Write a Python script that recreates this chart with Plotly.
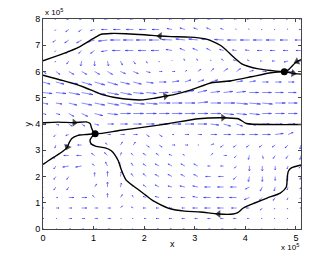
import plotly.graph_objects as go

# ---------------- data (x, y in units of 1e5) ----------------
X_GRID = [0.0, 0.255, 0.51, 0.765, 1.02, 1.275, 1.53, 1.785, 2.04, 2.295, 2.55,
          2.805, 3.06, 3.315, 3.57, 3.825, 4.08, 4.335, 4.59, 4.845, 5.1]
Y_GRID_TOP_DOWN = [8.0, 7.6, 7.2, 6.8, 6.4, 6.0, 5.6, 5.2, 4.8, 4.4, 4.0,
                   3.6, 3.2, 2.8, 2.4, 2.0, 1.6, 1.2, 0.8, 0.4, 0.0]

# velocity components (cm/s), rows from top (y=8) to bottom (y=0)
U_ROWS = [
    [-2,-2,-4,-4,-6,-6,-6,-6,-6,-6,-6,-6,-6,-6,-6,-5,-5,-4,-4,-4,-4],
    [-2,-2,-6,-6,-8,-12,-14,-14,-14,-14,-10,-10,-8,-8,-6,-2,-2,-2,-2,-2,-4],
    [-4,-6,-8,-10,-14,-18,-20,-20,-20,-20,-20,-18,-18,-18,-18,-18,-18,-18,-18,-16,-12],
    [-2,-2,-6,-6,-8,-12,-16,-16,-16,-16,-12,-10,-10,-8,-8,-8,-8,-10,-10,-10,-10],
    [-2,-2,-4,-2,0,2,4,4,2,0,0,-2,-2,0,-4,-6,-4,-4,-6,-8,-8],
    [6,8,10,10,10,10,10,10,8,6,6,4,6,6,8,8,8,8,10,10,10],
    [14,16,18,20,20,20,18,16,14,14,14,12,12,14,14,12,12,12,12,12,10],
    [18,20,22,22,22,22,22,20,20,18,18,18,18,18,18,18,18,18,16,16,16],
    [10,12,16,20,20,22,22,22,22,22,20,20,20,20,22,22,22,20,20,18,16],
    [6,8,10,12,16,20,20,20,20,20,20,20,20,20,20,20,20,18,18,18,16],
    [6,6,6,6,8,12,14,16,16,16,18,18,18,16,14,12,12,14,14,14,14],
    [-2,-4,-6,-6,-2,6,8,8,6,6,4,8,8,12,14,16,16,16,16,10,6],
    [-2,-2,-6,-8,-8,-4,4,4,6,6,6,6,2,6,-6,-6,-6,-6,-6,-6,-2],
    [-2,-4,-10,-10,-6,-6,2,-4,-6,-6,-6,-4,0,4,6,-4,-2,2,-4,-4,-2],
    [-2,-4,-12,-12,-4,-4,-2,-4,-6,-8,-8,-8,-8,-6,-6,-4,0,0,0,-2,-4],
    [-2,-4,-4,0,0,0,2,-4,-6,-8,-8,-8,-8,-10,-10,-6,-2,0,0,-2,-2],
    [-2,-4,-4,0,4,0,2,-4,-6,-8,-8,-10,-10,-12,-12,-12,-8,-4,-2,-2,-2],
    [2,4,10,10,-4,0,4,-2,-6,-8,-8,-8,-10,-14,-14,-14,-10,-6,-4,-2,-2],
    [2,6,6,10,6,6,4,-4,-6,-6,-6,-6,-10,-12,-12,-10,-6,-4,-2,-2,-2],
    [2,2,6,6,6,6,2,-2,-4,-6,-6,-6,-6,-6,-6,-6,-4,-2,-2,-2,0],
    [2,2,4,4,4,4,2,-2,-2,-4,-4,-4,-4,-4,-4,-4,-2,-2,-2,-2,0],
]
V_ROWS = [
    [-2,-2,-2,-2,0,0,0,0,0,0,0,0,0,0,0,0,0,0,0,0,0],
    [-4,-4,-8,-8,-4,0,0,0,0,0,4,6,6,6,4,2,2,0,0,2,0],
    [-8,-8,-11,-11,-8,-4,0,0,0,0,2,4,4,4,2,0,0,0,0,0,0],
    [-4,-4,-11,-11,-11,-4,0,0,0,0,4,8,8,8,4,2,2,0,0,0,0],
    [-4,-4,-11,-19,-19,-19,-15,-11,-8,-4,2,8,8,4,8,4,4,0,0,-4,-4],
    [-8,-11,-11,-11,-11,-11,-8,-8,-4,0,0,4,8,11,11,11,4,0,0,0,0],
    [-8,-8,-8,-11,-11,-11,-8,-8,-4,0,4,8,8,8,4,4,4,0,0,0,0],
    [-4,-4,-8,-8,-8,-8,-8,-4,-4,0,4,8,8,4,4,4,0,0,0,0,0],
    [-4,-4,-8,-8,-8,-8,-8,-4,-4,0,0,0,4,0,0,-4,-4,-4,0,0,0],
    [-4,-4,-11,-11,-8,-4,0,0,0,0,0,0,0,0,-4,-4,-4,0,0,0,0],
    [0,-4,-8,-8,-4,0,0,0,0,0,0,0,0,-4,-8,-8,-4,0,0,0,0],
    [-4,-8,-4,0,4,0,0,0,-8,-8,0,0,0,0,0,0,0,0,4,8,0],
    [-8,-11,0,0,4,8,11,11,-8,-8,0,0,0,4,-8,-8,-8,-8,-8,-11,-15],
    [-11,-11,0,0,8,11,11,8,8,8,4,4,0,8,0,-8,-15,-11,-11,-11,-15],
    [-11,-11,-4,-4,8,15,15,11,8,8,8,8,8,0,0,-8,-19,-19,-15,-11,-8],
    [-8,-11,-11,0,15,19,19,11,11,8,8,8,8,0,0,-11,-19,-19,-15,-15,-11],
    [-8,-11,-11,0,11,19,15,11,8,8,4,4,4,0,0,0,-8,-15,-15,-11,-8],
    [0,0,0,0,8,15,11,8,4,4,0,0,4,0,0,0,-8,-11,-11,-8,-4],
    [0,0,0,0,0,0,8,4,0,0,0,0,0,0,0,0,0,-8,-4,-4,0],
    [0,0,0,0,0,0,0,0,0,0,0,0,0,0,0,0,0,0,0,0,0],
    [0,0,0,0,0,0,0,0,0,0,0,0,0,0,0,0,0,0,0,0,0],
]

# streamlines (x, y in 1e5), listed in flow direction
STREAM_TOP_X = [5.1, 5.02, 4.93, 4.85, 4.77, 4.5, 4.26, 4.05, 3.92, 3.76, 3.62, 3.52, 3.35, 3.19,
                2.9, 2.53, 2.31, 2.0, 1.64, 1.35, 1.15, 0.99, 0.73, 0.4, 0.0]
STREAM_TOP_Y = [6.45, 6.38, 6.22, 6.06, 6.0, 6.04, 6.1, 6.2, 6.3, 6.56, 6.82, 6.98, 7.15, 7.25,
                7.31, 7.33, 7.35, 7.4, 7.44, 7.45, 7.42, 7.25, 6.95, 6.68, 6.41]
STREAM_MID_X = [0.0, 0.4, 0.79, 1.19, 1.58, 1.98, 2.2, 2.42, 2.57, 2.93, 3.33, 3.72, 4.12, 4.51,
                4.77, 4.95, 5.1]
STREAM_MID_Y = [5.86, 5.65, 5.42, 5.11, 4.96, 4.92, 4.98, 5.06, 5.11, 5.3, 5.57, 5.65, 5.8, 5.95,
                5.99, 5.93, 5.9]
STREAM_JET_X = [0.0, 0.3, 0.62, 0.85, 0.93, 0.96, 0.99, 1.03, 1.5, 2.0, 2.5, 3.07, 3.56, 3.86,
                4.02, 4.5, 5.1]
STREAM_JET_Y = [4.05, 4.07, 4.05, 4.08, 4.02, 3.85, 3.72, 3.63, 3.75, 3.88, 4.02, 4.2, 4.24, 4.2,
                4.02, 3.98, 3.98]
STREAM_WEST_X = [1.03, 0.85, 0.68, 0.57, 0.52, 0.48, 0.4, 0.26, 0.12, 0.0]
STREAM_WEST_Y = [3.63, 3.6, 3.56, 3.45, 3.3, 3.12, 2.97, 2.79, 2.62, 2.46]
STREAM_LOOP_X = [5.1, 4.91, 4.85, 4.83, 4.81, 4.69, 4.43, 4.2, 3.96, 3.85, 3.76, 3.47, 3.11, 2.8,
                 2.5, 2.3, 2.18, 2.02, 1.84, 1.64, 1.55, 1.48, 1.35, 1.23, 1.05, 0.95, 0.93,
                 0.97, 1.03]
STREAM_LOOP_Y = [2.44, 2.33, 2.2, 2.0, 1.6, 1.37, 1.18, 1.0, 0.8, 0.62, 0.57, 0.57, 0.65, 0.68,
                 0.78, 0.95, 1.07, 1.3, 1.56, 1.87, 2.25, 2.63, 2.98, 3.09, 3.15, 3.25, 3.38,
                 3.52, 3.63]
# arrowheads: index into the streamline where a head is drawn
ARROWS = [("top", 1), ("top", 16), ("mid", 7), ("mid", 15), ("jet", 2), ("jet", 12),
          ("west", 5), ("loop", 11)]
SEED_X = [4.77, 1.03]
SEED_Y = [5.99, 3.63]

# ---------------- figure ----------------
SCALE = 0.0100  # 1e5 m per (cm/s)
ALPHA, BETA = 0.33, 0.33

qx, qy = [], []
for r, yv in enumerate(Y_GRID_TOP_DOWN):
    for c, xv in enumerate(X_GRID):
        u = U_ROWS[r][c] * SCALE
        v = V_ROWS[r][c] * SCALE
        if u == 0 and v == 0:
            continue
        tx, ty = xv + u, yv + v
        qx += [xv, tx, None]
        qy += [yv, ty, None]
        qx += [tx - ALPHA * (u + BETA * v), tx, tx - ALPHA * (u - BETA * v), None]
        qy += [ty - ALPHA * (v - BETA * u), ty, ty - ALPHA * (v + BETA * u), None]

fig = go.Figure()
fig.add_trace(go.Scatter(x=qx, y=qy, mode="lines",
                         line=dict(color="rgb(40,40,255)", width=0.55),
                         hoverinfo="skip", showlegend=False))

streams = {
    "top": (STREAM_TOP_X, STREAM_TOP_Y),
    "mid": (STREAM_MID_X, STREAM_MID_Y),
    "jet": (STREAM_JET_X, STREAM_JET_Y),
    "west": (STREAM_WEST_X, STREAM_WEST_Y),
    "loop": (STREAM_LOOP_X, STREAM_LOOP_Y),
}
for name, (sx, sy) in streams.items():
    fig.add_trace(go.Scatter(x=sx, y=sy, mode="lines",
                             line=dict(color="black", width=1.4, shape="spline", smoothing=0.6),
                             hoverinfo="skip", showlegend=False))

for name, i in ARROWS:
    sx, sy = streams[name]
    fig.add_trace(go.Scatter(x=[sx[i - 1], sx[i]], y=[sy[i - 1], sy[i]], mode="markers",
                             marker=dict(symbol="triangle-up", size=[0, 7], color="black",
                                         angleref="previous", line=dict(width=0)),
                             hoverinfo="skip", showlegend=False))

fig.add_trace(go.Scatter(x=SEED_X, y=SEED_Y, mode="markers",
                         marker=dict(symbol="circle", size=7, color="black"),
                         hoverinfo="skip", showlegend=False))

axis_common = dict(showgrid=False, zeroline=False, showline=True, linecolor="#444",
                   linewidth=1, mirror="ticks", ticks="inside", ticklen=3,
                   tickcolor="#444", tickfont=dict(size=9, color="black"),
                   automargin=False)
fig.update_xaxes(range=[0, 5.1], tickvals=[0, 1, 2, 3, 4, 5], **axis_common)
fig.update_yaxes(range=[0, 8], tickvals=[0, 1, 2, 3, 4, 5, 6, 7, 8], **axis_common)

# the page adds an 8px body margin, so the figure is sized/offset to compensate
fig.update_layout(
    width=324, height=250,
    margin=dict(l=35, r=31, t=11, b=29, autoexpand=False),
    paper_bgcolor="white", plot_bgcolor="white",
    font=dict(family="Liberation Sans, Arial, sans-serif", size=9, color="black"),
    annotations=[
        dict(text="x", x=0.5, y=-0.072, xref="paper", yref="paper",
             showarrow=False, xanchor="center", yanchor="middle", font=dict(size=9)),
        dict(text="y", x=-0.06, y=0.5, xref="paper", yref="paper", textangle=-90,
             showarrow=False, xanchor="center", yanchor="middle", font=dict(size=9)),
        dict(text="x 10<sup>5</sup>", x=0.0, y=1.035, xref="paper", yref="paper",
             showarrow=False, xanchor="left", yanchor="middle", font=dict(size=8)),
        dict(text="x 10<sup>5</sup>", x=1.0, y=-0.085, xref="paper", yref="paper",
             showarrow=False, xanchor="right", yanchor="middle", font=dict(size=8)),
    ],
)

fig.write_html("out.html")
